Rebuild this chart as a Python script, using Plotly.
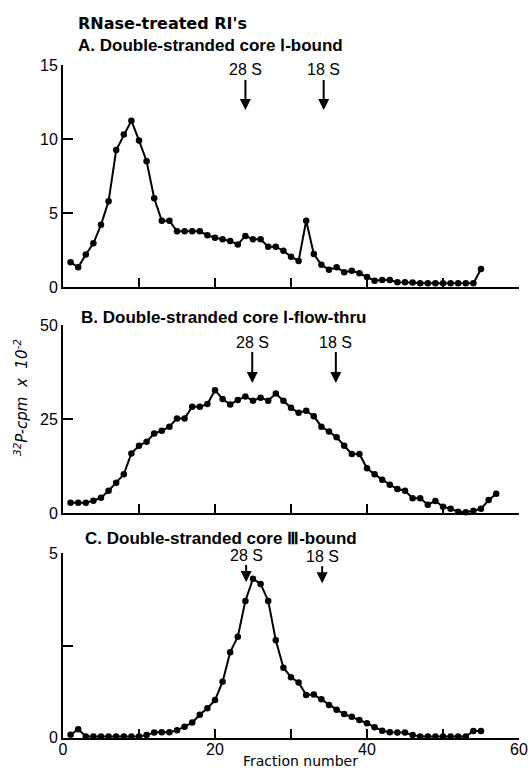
import plotly.graph_objects as go

# ---------------- data ----------------
fractions_a = list(range(1, 56))
counts_a = [1.67, 1.33, 2.2, 2.95, 4.2, 5.8, 9.25, 10.3, 11.24, 9.9,
            8.5, 6.0, 4.48, 4.48, 3.76, 3.76, 3.76, 3.76, 3.5, 3.33,
            3.22, 3.1, 2.88, 3.45, 3.22, 3.22, 2.72, 2.72, 2.45, 2.05,
            1.76, 4.48, 2.23, 1.5, 1.17, 1.33, 1.0, 1.1, 0.93, 0.68,
            0.43, 0.47, 0.47, 0.32, 0.32, 0.3, 0.25, 0.25, 0.25, 0.25,
            0.25, 0.25, 0.25, 0.25, 1.22]

fractions_b = list(range(1, 58))
counts_b = [2.8, 2.8, 2.8, 3.35, 4.15, 6.0, 8.1, 10.35, 15.9, 17.95,
            19.0, 21.2, 21.9, 23.0, 25.2, 25.2, 28.3, 28.3, 29.0, 32.7,
            30.35, 28.9, 30.1, 31.0, 29.9, 30.7, 29.9, 31.8, 29.9, 28.0,
            26.7, 27.2, 25.8, 23.0, 21.7, 20.2, 17.95, 15.75, 15.75, 11.95,
            10.35, 8.9, 7.6, 6.45, 6.0, 4.0, 4.0, 2.3, 3.27, 1.75,
            1.2, 0.42, 0.27, 0.7, 1.2, 3.5, 5.2]

fractions_c = list(range(1, 56))
counts_c = [0.08, 0.23, 0.03, 0.03, 0.03, 0.03, 0.03, 0.03, 0.03, 0.03,
            0.07, 0.14, 0.15, 0.15, 0.2, 0.3, 0.41, 0.62, 0.8, 1.02,
            1.52, 2.32, 2.74, 3.71, 4.31, 4.17, 3.71, 2.64, 1.9, 1.64,
            1.5, 1.16, 1.17, 1.04, 0.89, 0.76, 0.64, 0.57, 0.48, 0.39,
            0.28, 0.19, 0.15, 0.14, 0.14, 0.07, 0.03, 0.03, 0.03, 0.03,
            0.03, 0.03, 0.03, 0.18, 0.18]

header = "RNase-treated RI's"
panel_titles = ["A. Double-stranded core \u2160-bound",
                "B. Double-stranded core \u2160-flow-thru",
                "C. Double-stranded core \u2162-bound"]
marker_labels = ["28 S", "18 S"]
marker_pos_a = [24.0, 34.3]
marker_pos_b = [24.9, 35.9]
marker_pos_c = [24.1, 34.1]
marker_tip_a = [11.96, 11.96]
marker_tip_b = [34.6, 34.6]
marker_tip_c = [4.22, 4.19]

ytick_a = [0, 5, 10, 15]
ytick_b = [0, 25, 50]
ytick_c = [0, 5]
yminor_c = [2.5]
xtick_major = [0, 20, 40, 60]
xtick_minor = [10, 30, 50]
ylabel = "<i><sup>32</sup>P-cpm  x  10<sup>-2</sup></i>"
xlabel = "Fraction number"

FONT = "Liberation Sans, Arial, sans-serif"
WIDE = "DejaVu Sans, sans-serif"
W, H = 532, 771
L, R = 63, 13
PW = W - L - R

def px(xp):
    return (xp - L) / PW

def py(yp):
    return 1 - yp / H

fig = go.Figure()
series = [(fractions_a, counts_a, "x", "y"),
          (fractions_b, counts_b, "x2", "y2"),
          (fractions_c, counts_c, "x3", "y3")]
for fx, cy, xa, ya in series:
    fig.add_trace(go.Scatter(x=fx, y=cy, xaxis=xa, yaxis=ya, mode="lines+markers",
                             line=dict(color="black", width=2),
                             marker=dict(color="black", size=6.5),
                             cliponaxis=False, showlegend=False))

ydomains = [(py(287), py(65)), (py(513.3), py(325)), (py(737.7), py(553.3))]
yranges = [[0, 15], [0, 50], [0, 5]]
yticks = [ytick_a, ytick_b, ytick_c]
yminors = [[], [], yminor_c]

axis_common = dict(showgrid=False, zeroline=False, showline=True, linecolor="black",
                   linewidth=2, ticks="inside", tickcolor="black", tickwidth=2,
                   automargin=False, tickfont=dict(family=FONT, size=16, color="black"))

layout = dict(width=W, height=H, margin=dict(l=L, r=R, t=0, b=0),
              paper_bgcolor="white", plot_bgcolor="white", showlegend=False,
              template="none")
for i in range(3):
    sfx = "" if i == 0 else str(i + 1)
    layout["xaxis" + sfx] = dict(axis_common, domain=[0, 1], range=[0, 60],
                                 anchor="y" + sfx, tickvals=xtick_major,
                                 ticktext=[str(v) for v in xtick_major],
                                 ticklen=9, showticklabels=(i == 2),
                                 ticklabelstandoff=-4,
                                 minor=dict(tickvals=xtick_minor, ticks="inside", ticklen=9,
                                            tickwidth=2, tickcolor="black", showgrid=False))
    ymaj = dict(axis_common, domain=list(ydomains[i]), range=yranges[i],
                anchor="x" + sfx, tickvals=yticks[i], ticktext=[str(v) for v in yticks[i]],
                ticklen=10)
    if yminors[i]:
        ymaj["minor"] = dict(tickvals=yminors[i], ticks="inside", ticklen=10,
                             tickwidth=2, tickcolor="black", showgrid=False)
    layout["yaxis" + sfx] = ymaj
fig.update_layout(**layout)

ann = []
ann.append(dict(text="<b>" + header + "</b>", x=px(76), y=py(23), xref="paper", yref="paper",
                xanchor="left", yanchor="middle", showarrow=False,
                font=dict(family=WIDE, size=16, color="#000000")))
title_pos = [(76, 45), (79, 317), (83, 538)]
for t, (tx, ty) in zip(panel_titles, title_pos):
    ann.append(dict(text="<b>" + t + "</b>", x=px(tx), y=py(ty), xref="paper", yref="paper",
                    xanchor="left", yanchor="middle", showarrow=False,
                    font=dict(family=FONT, size=17, color="#000000")))

arrow_sets = [(marker_pos_a, marker_tip_a, "x", "y", -40),
              (marker_pos_b, marker_tip_b, "x2", "y2", -41),
              (marker_pos_c, marker_tip_c, "x3", "y3", -27)]
for pos, tips, xa, ya, off in arrow_sets:
    for lab, xv, yv in zip(marker_labels, pos, tips):
        ann.append(dict(text=lab, x=xv, y=yv, xref=xa, yref=ya, showarrow=True,
                        ax=0, ay=off, arrowhead=2, arrowsize=1.1, arrowwidth=2,
                        arrowcolor="black", standoff=0,
                        font=dict(family=FONT, size=16, color="#000000")))

ann.append(dict(text=ylabel, x=px(21), y=py(398), xref="paper", yref="paper",
                textangle=-90, showarrow=False, xanchor="center", yanchor="middle",
                font=dict(family=WIDE, size=15, color="#000000")))
ann.append(dict(text=xlabel, x=px(300), y=py(761), xref="paper", yref="paper",
                showarrow=False, xanchor="center", yanchor="middle",
                font=dict(family=WIDE, size=14, color="#000000")))
fig.update_layout(annotations=ann)

fig.write_html("out.html")
